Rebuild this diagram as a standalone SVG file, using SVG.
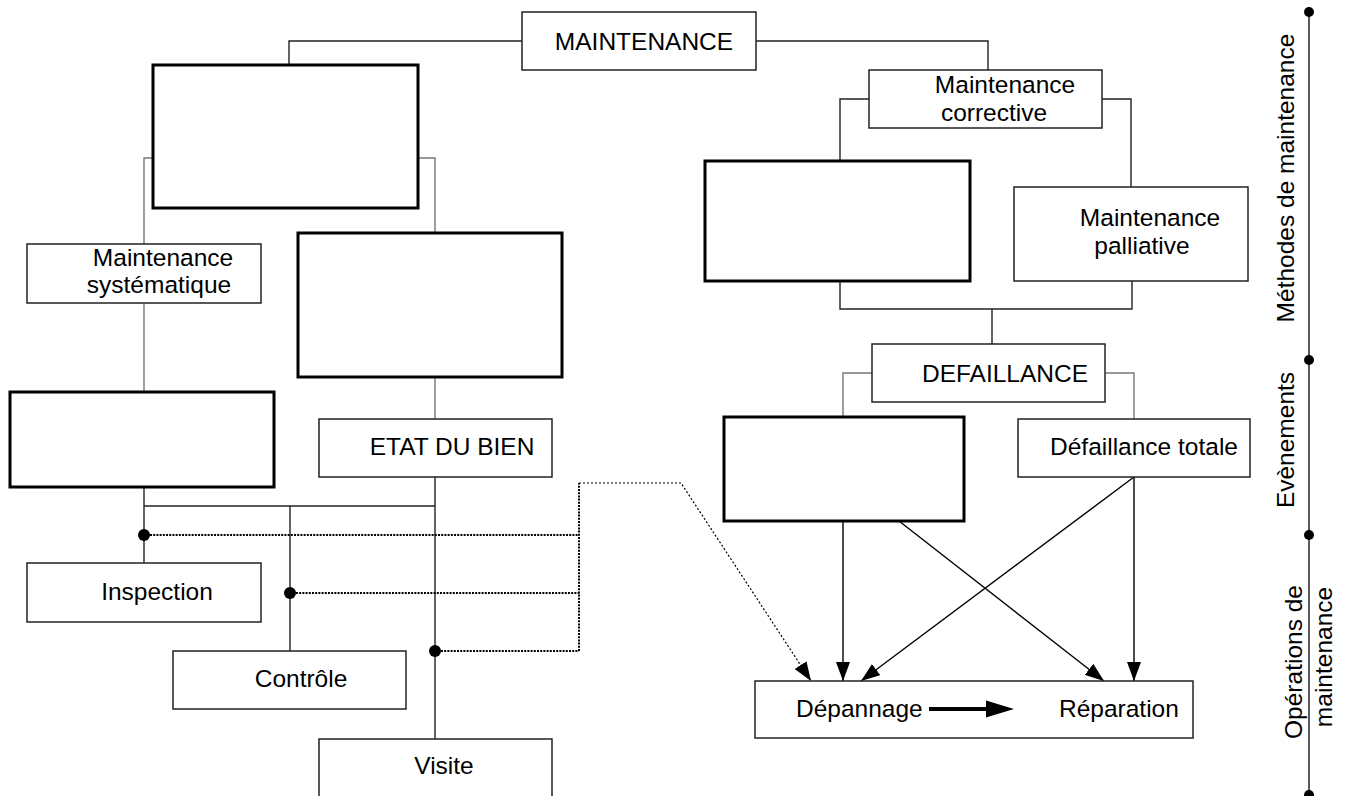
<svg xmlns="http://www.w3.org/2000/svg" width="1345" height="796" viewBox="0 0 1345 796">
<style>
text{font-family:"Liberation Sans",Arial,sans-serif;font-size:24.5px;fill:#000}
.box{fill:#fff;stroke:#222;stroke-width:1.5}
.thick{fill:#fff;stroke:#000;stroke-width:3}
.ln{fill:none;stroke:#222;stroke-width:1.4}
.gr{fill:none;stroke:#777;stroke-width:1.4}
.arr{fill:none;stroke:#000;stroke-width:1.4;marker-end:url(#ah)}
.dt{fill:none;stroke:#000;stroke-width:2;stroke-dasharray:2 1.2}
.dt2{fill:none;stroke:#000;stroke-width:1.2;stroke-dasharray:2 2}
.c{text-anchor:middle}
</style>
<defs>
<marker id="ah" markerUnits="userSpaceOnUse" markerWidth="19" markerHeight="14" refX="19" refY="7" orient="auto">
<path d="M0,0 L19,7 L0,14 z" fill="#000"/>
</marker>
</defs>
<rect width="1345" height="796" fill="#fff"/>
<g id="connectors">
<polyline class="ln" points="522,41 289,41 289,65"/>
<polyline class="ln" points="756,41 988,41 988,70"/>
<polyline class="gr" points="153,158 144,158 144,244"/>
<line class="gr" x1="144" y1="303" x2="144" y2="392"/>
<polyline class="gr" points="418,158 435,158 435,233"/>
<line class="gr" x1="435" y1="377" x2="435" y2="419"/>
<polyline class="ln" points="869,99 840,99 840,161"/>
<polyline class="ln" points="1102,99 1131,99 1131,187"/>
<polyline class="ln" points="840,281 840,309 1132,309 1132,281"/>
<line class="ln" x1="992" y1="309" x2="992" y2="344"/>
<polyline class="gr" points="872,373 843,373 843,417"/>
<polyline class="gr" points="1105,373 1134,373 1134,419"/>
<line class="ln" x1="144" y1="487" x2="144" y2="563"/>
<line class="ln" x1="144" y1="506" x2="435" y2="506"/>
<line class="ln" x1="290" y1="506" x2="290" y2="651"/>
<line class="ln" x1="435" y1="477" x2="435" y2="739"/>
<line class="dt" x1="150" y1="535" x2="579" y2="535"/>
<line class="dt" x1="296" y1="593" x2="579" y2="593"/>
<line class="dt" x1="441" y1="651" x2="579" y2="651"/>
<line class="dt" x1="579" y1="651" x2="579" y2="483"/>
<polyline class="dt2" points="579,483 681,483 811,681" marker-end="url(#ah)"/>
<line class="arr" x1="843" y1="521" x2="843" y2="681"/>
<line class="arr" x1="1134" y1="477" x2="861" y2="681"/>
<line class="arr" x1="899" y1="521" x2="1104" y2="681"/>
<line class="arr" x1="1134" y1="477" x2="1134" y2="681"/>
<circle cx="144" cy="535" r="6" fill="#000"/>
<circle cx="290" cy="593" r="6" fill="#000"/>
<circle cx="435" cy="651" r="6" fill="#000"/>
</g>
<g id="maintenance"><rect class="box" x="522" y="12" width="234" height="58"/><text class="c" x="644" y="50">MAINTENANCE</text></g>
<g id="boxA"><rect class="thick" x="153" y="65" width="265" height="143"/></g>
<g id="corrective"><rect class="box" x="869" y="70" width="233" height="58"/><text class="c" x="1005" y="93">Maintenance</text><text class="c" x="994" y="121">corrective</text></g>
<g id="boxB"><rect class="thick" x="705" y="161" width="265" height="120"/></g>
<g id="palliative"><rect class="box" x="1014" y="187" width="234" height="94"/><text class="c" x="1150" y="226">Maintenance</text><text class="c" x="1142" y="254">palliative</text></g>
<g id="systematique"><rect class="box" x="27" y="244" width="234" height="59"/><text class="c" x="163" y="266">Maintenance</text><text class="c" x="159" y="293">systématique</text></g>
<g id="boxD"><rect class="thick" x="298" y="233" width="264" height="144"/></g>
<g id="defaillance"><rect class="box" x="872" y="344" width="233" height="58"/><text class="c" x="1005" y="382">DEFAILLANCE</text></g>
<g id="boxE"><rect class="thick" x="10" y="392" width="264" height="95"/></g>
<g id="etat"><rect class="box" x="319" y="419" width="233" height="58"/><text class="c" x="452" y="455">ETAT DU BIEN</text></g>
<g id="boxC"><rect class="thick" x="724" y="417" width="240" height="104"/></g>
<g id="totale"><rect class="box" x="1018" y="419" width="232" height="58"/><text class="c" x="1144" y="455">Défaillance totale</text></g>
<g id="inspection"><rect class="box" x="27" y="563" width="234" height="59"/><text class="c" x="157" y="600">Inspection</text></g>
<g id="controle"><rect class="box" x="173" y="651" width="233" height="58"/><text class="c" x="301" y="687">Contrôle</text></g>
<g id="visite"><rect class="box" x="319" y="739" width="233" height="70"/><text class="c" x="444" y="774">Visite</text></g>
<g id="operations"><rect class="box" x="755" y="681" width="438" height="57"/>
<text x="796" y="717">Dépannage</text><text x="1059" y="717">Réparation</text>
<line x1="929" y1="709" x2="988" y2="709" stroke="#000" stroke-width="4"/>
<polygon points="986,700.5 1014,709 986,717.5" fill="#000"/></g>
<g id="axis">
<line x1="1309" y1="12" x2="1309" y2="795" stroke="#222" stroke-width="1.5"/>
<circle cx="1309" cy="12" r="5" fill="#000"/><circle cx="1309" cy="360" r="5" fill="#000"/>
<circle cx="1309" cy="535" r="5" fill="#000"/><circle cx="1309" cy="795" r="5" fill="#000"/>
<text class="c" transform="translate(1294,178) rotate(-90)">Méthodes de maintenance</text>
<text class="c" transform="translate(1294,440) rotate(-90)">Evènements</text>
<text class="c" transform="translate(1302,662) rotate(-90)">Opérations de</text>
<text class="c" transform="translate(1332,657) rotate(-90)">maintenance</text>
</g>
</svg>
